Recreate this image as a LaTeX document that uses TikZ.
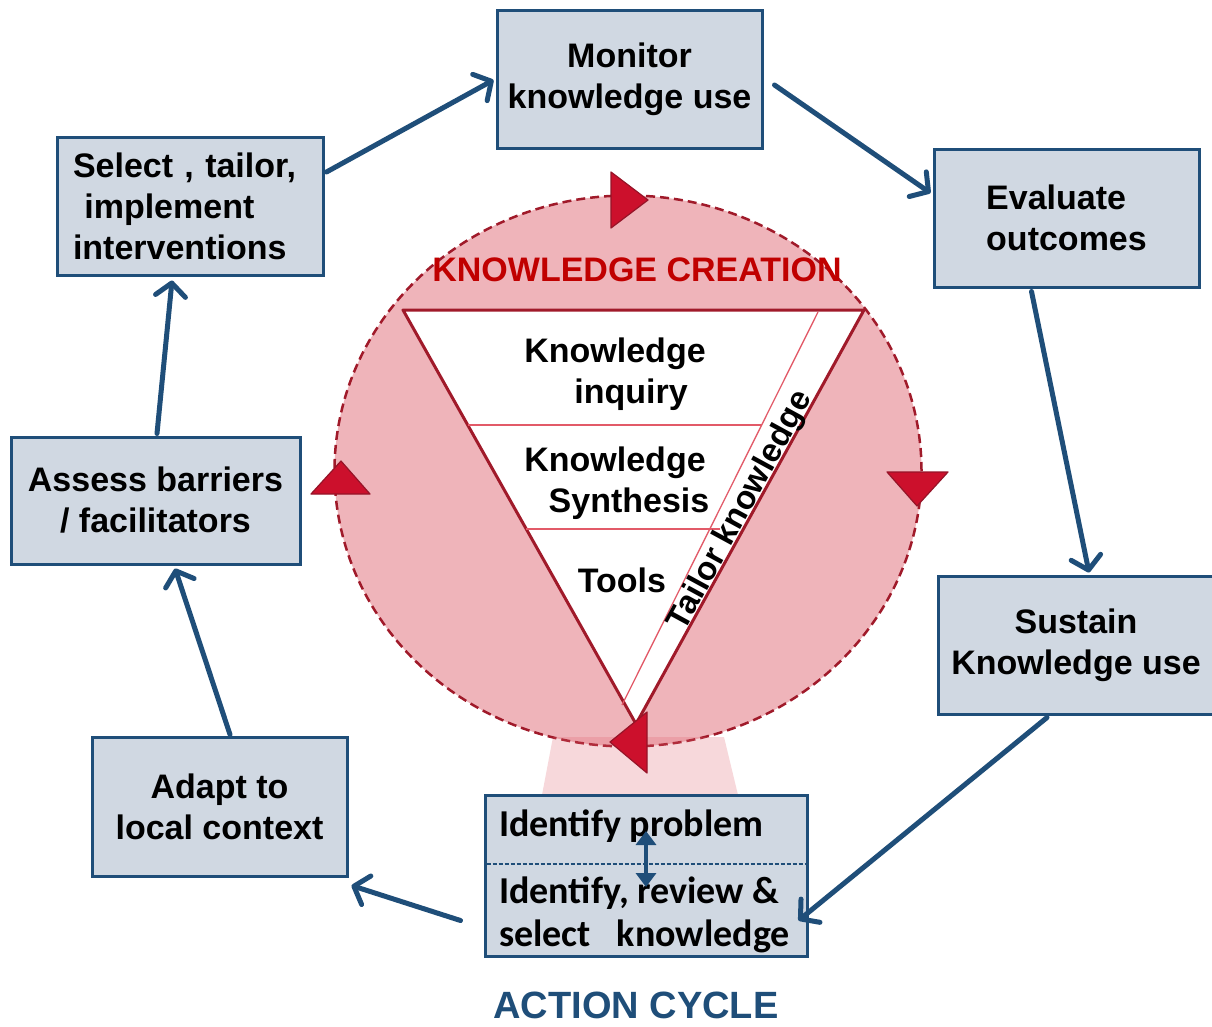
\documentclass[tikz,border=0pt]{standalone}
\usepackage{fontspec}
\setmainfont{Liberation Sans}
\newfontfamily\calfont{Carlito}
\usetikzlibrary{arrows.meta,shapes.geometric,calc}
\definecolor{boxfill}{RGB}{208,216,226}
\definecolor{navy}{RGB}{31,78,121}
\definecolor{pinkfill}{RGB}{239,180,186}
\definecolor{darkred}{RGB}{160,26,42}
\definecolor{kcred}{RGB}{192,0,0}
\definecolor{arrred}{RGB}{204,16,44}
\definecolor{arredge}{RGB}{150,20,40}
\definecolor{trapcol}{RGB}{224,100,112}
\definecolor{thinred}{RGB}{226,90,104}
\begin{document}
\begin{tikzpicture}[x=1pt,y=-1pt,
  box/.style={draw=navy,line width=3pt,fill=boxfill,rectangle,inner sep=0pt,
    font=\fontsize{34}{41}\selectfont\bfseries},
  flow/.style={draw=navy,line width=5pt,line cap=round,
    -{Straight Barb[length=13pt,width=30pt,round]}},
  inner/.style={font=\fontsize{34}{41}\selectfont\bfseries,anchor=base,inner sep=0pt},
  redtip/.style={fill=arrred,draw=arredge,line width=1.2pt,line join=round}]
\useasboundingbox (0,0) rectangle (1212,1026);
\fill[white] (0,0) rectangle (1212,1026);

% knowledge creation circle
\node (kc) [ellipse,draw=darkred,fill=pinkfill,line width=2.5pt,
  dash pattern=on 9pt off 5pt,minimum width=587pt,minimum height=551pt,inner sep=0pt] at (628,471) {};
% funnel towards action cycle
\fill[trapcol,opacity=0.25] (553,737) -- (724,737) -- (738,795) -- (542,795) -- cycle;

% funnel triangle
\draw[darkred,line width=3pt,fill=white,line join=round] (403,310) -- (864,310) -- (636,724) -- cycle;
\draw[thinred,line width=1.3pt] (818,312) -- (622,705);
\draw[thinred,line width=1.3pt] (468,425) -- (762,425);
\draw[thinred,line width=1.3pt] (526,529) -- (720,529);

\node (kctitle) [font=\fontsize{34}{41}\selectfont\bfseries,text=kcred,inner sep=0pt] at (637,270) {KNOWLEDGE CREATION};
\node (k1) [inner] at (615,362) {Knowledge};
\node (k2) [inner] at (631,403) {inquiry};
\node (k3) [inner] at (615,471) {Knowledge};
\node (k4) [inner] at (629,512) {Synthesis};
\node (k5) [inner] at (622,592) {Tools};
\node (tk) [font=\fontsize{33}{40}\selectfont\bfseries,rotate=61.4,inner sep=0pt] at (741,511) {Tailor knowledge};

% red cycle arrowheads
\draw[redtip] (611,172) -- (648,200) -- (611,228) -- cycle;
\draw[redtip] (887,472) -- (948,472) -- (917,506) -- cycle;
\draw[redtip] (647,712) -- (610,742) -- (647,773) -- cycle;
\draw[redtip] (311,494) -- (341,461) -- (370,494) -- cycle;

% action cycle boxes
\node (mon) [box,minimum width=265pt,minimum height=138pt,align=center] at (629.5,79) {Monitor\\knowledge use};
\node (eval) [box,minimum width=265pt,minimum height=138pt,align=left] at (1066.5,218) {Evaluate\\outcomes};
\node (sus) [box,minimum width=276pt,minimum height=138pt,align=center] at (1076,645) {Sustain\\Knowledge use};
\node (idbox) [box,minimum width=322pt,minimum height=161pt] at (646,875.5) {};
\node (adapt) [box,minimum width=255pt,minimum height=139pt,align=center] at (219.5,806.5) {Adapt to\\local context};
\node (assess) [box,minimum width=289pt,minimum height=127pt,align=center] at (155.5,500.5) {Assess barriers\\/ facilitators};
\node (sel) [box,minimum width=266pt,minimum height=138pt,align=left,text width=234pt] at (190,206) {Select , tailor,\\\ implement\\interventions};

% inside the bottom box
\coordinate (divl) at (486.5,864);
\coordinate (divr) at (805.5,864);
\draw[navy,line width=1.2pt,dash pattern=on 4pt off 2pt] (divl) -- (divr);
\node (p1) [font=\calfont\bfseries\fontsize{38}{43}\selectfont,anchor=base west,inner sep=0pt] at (499,836) {Identify problem};
\node (p2) [font=\calfont\bfseries\fontsize{38}{43}\selectfont,anchor=base west,inner sep=0pt] at (499,903) {Identify, review \&};
\node (p3) [font=\calfont\bfseries\fontsize{38}{43}\selectfont,anchor=base west,inner sep=0pt] at (499,946) {select\ \ \ knowledge};
\coordinate (da1) at (646,831);
\coordinate (da2) at (646,887);
\draw[navy,line width=3.5pt,{Triangle[length=14pt,width=20pt]}-{Triangle[length=14pt,width=20pt]}] (da1) -- (da2);

\node (ac) [font=\fontsize{38}{45}\selectfont\bfseries,text=navy,inner sep=0pt] at (636,1005) {ACTION CYCLE};

% cycle connectors
\draw[flow] ($(sel.east)+(2,-34)$) -- ($(mon.west)+(-2,1)$);
\draw[flow] ($(mon.east)+(11,6)$) -- ($(eval.west)+(-2,-25)$);
\draw[flow] ($(eval.south)+(-35,3)$) -- ($(sus.north)+(13,-2)$);
\draw[flow] ($(sus.south)+(-29,2)$) -- ($(idbox.east)+(-10,45)$);
\draw[flow] ($(idbox.west)+(-23,45)$) -- ($(adapt.south east)+(3,8)$);
\draw[flow] ($(adapt.north)+(10.5,-1)$) -- ($(assess.south)+(19.5,3)$);
\draw[flow] ($(assess.north)+(1.5,-2)$) -- ($(sel.south)+(-18,4)$);
\end{tikzpicture}
\end{document}
